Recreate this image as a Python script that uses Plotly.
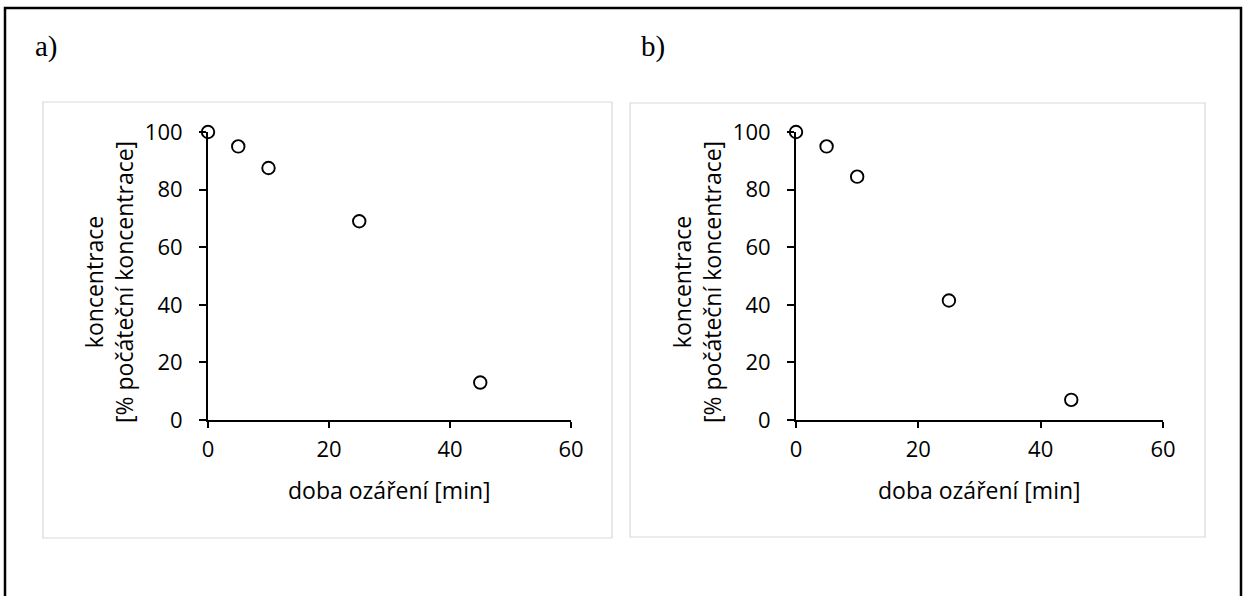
import plotly.graph_objects as go

W, H = 1243, 596

# data
time_min = [0, 5, 10, 25, 45]
conc_a = [100, 95, 87.5, 69, 13]
conc_b = [100, 95, 84.5, 41.5, 7]
x_ticks = [0, 20, 40, 60]
y_ticks = [0, 20, 40, 60, 80, 100]
panel_labels = ["a)", "b)"]
x_title = "doba ozáření [min]"
y_title = "koncentrace<br>[% počáteční koncentrace]"

def px(x):
    return x / W

def py(y):
    return 1 - y / H

FONT = "Open Sans"
FS = 22
fig = go.Figure()

marker = dict(symbol="circle-open", size=12.5, color="black", line=dict(width=1.9, color="black"))
fig.add_trace(go.Scatter(x=time_min, y=conc_a, mode="markers", marker=marker,
                         cliponaxis=False, xaxis="x", yaxis="y", showlegend=False))
fig.add_trace(go.Scatter(x=time_min, y=conc_b, mode="markers", marker=marker,
                         cliponaxis=False, xaxis="x2", yaxis="y2", showlegend=False))

def xaxis(domain, anchor):
    return dict(domain=domain, anchor=anchor, range=[0, 60], tickvals=x_ticks,
                showgrid=False, zeroline=False, showline=True, linecolor="black", linewidth=2,
                ticks="outside", ticklen=6, tickwidth=2, tickcolor="black",
                ticklabelstandoff=3, automargin=False,
                tickfont=dict(family=FONT, size=FS, color="black"))

def yaxis(domain, anchor):
    return dict(domain=domain, anchor=anchor, range=[0, 100], tickvals=y_ticks,
                showgrid=False, zeroline=False, showline=True, linecolor="black", linewidth=2,
                ticks="outside", ticklen=7, tickwidth=2, tickcolor="black",
                ticklabelstandoff=12, automargin=False,
                tickfont=dict(family=FONT, size=FS, color="black"))

shapes = [
    # outer border
    dict(type="rect", xref="paper", yref="paper", x0=px(5), x1=px(1241), y0=py(8), y1=-0.2,
         line=dict(color="black", width=2.5), fillcolor="rgba(0,0,0,0)", layer="below"),
    # panel boxes
    dict(type="rect", xref="paper", yref="paper", x0=px(43), x1=px(612), y0=py(102), y1=py(538),
         line=dict(color="#d9d9d9", width=1.2), fillcolor="rgba(0,0,0,0)", layer="below"),
    dict(type="rect", xref="paper", yref="paper", x0=px(630), x1=px(1205), y0=py(103), y1=py(537),
         line=dict(color="#d9d9d9", width=1.2), fillcolor="rgba(0,0,0,0)", layer="below"),
]

title_font = dict(family=FONT, size=23, color="black")
annotations = [
    dict(text=panel_labels[0], xref="paper", yref="paper", x=px(33), y=py(47), xanchor="left",
         yanchor="middle", showarrow=False, font=dict(family="Liberation Serif", size=29, color="black")),
    dict(text=panel_labels[1], xref="paper", yref="paper", x=px(639), y=py(47), xanchor="left",
         yanchor="middle", showarrow=False, font=dict(family="Liberation Serif", size=29, color="black")),
    # axis titles
    dict(text=x_title, xref="paper", yref="paper", x=px(389.5), y=py(490), xanchor="center",
         yanchor="middle", showarrow=False, font=title_font),
    dict(text=x_title, xref="paper", yref="paper", x=px(979.5), y=py(490), xanchor="center",
         yanchor="middle", showarrow=False, font=title_font),
    dict(text=y_title, xref="paper", yref="paper", x=px(109), y=py(282), xanchor="center",
         yanchor="middle", textangle=-90, showarrow=False, font=title_font),
    dict(text=y_title, xref="paper", yref="paper", x=px(697), y=py(282), xanchor="center",
         yanchor="middle", textangle=-90, showarrow=False, font=title_font),
]

fig.update_layout(
    width=W, height=H, margin=dict(l=0, r=0, t=0, b=0, autoexpand=False),
    paper_bgcolor="white", plot_bgcolor="rgba(0,0,0,0)",
    xaxis=xaxis([px(208), px(571)], "y"),
    yaxis=yaxis([py(420), py(132)], "x"),
    xaxis2=xaxis([px(796), px(1163)], "y2"),
    yaxis2=yaxis([py(420), py(132)], "x2"),
    shapes=shapes, annotations=annotations, showlegend=False,
)

fig.write_html("out.html",
               post_script="document.body.style.margin='0';document.body.style.padding='0';"
                           "document.documentElement.style.overflow='hidden';")
